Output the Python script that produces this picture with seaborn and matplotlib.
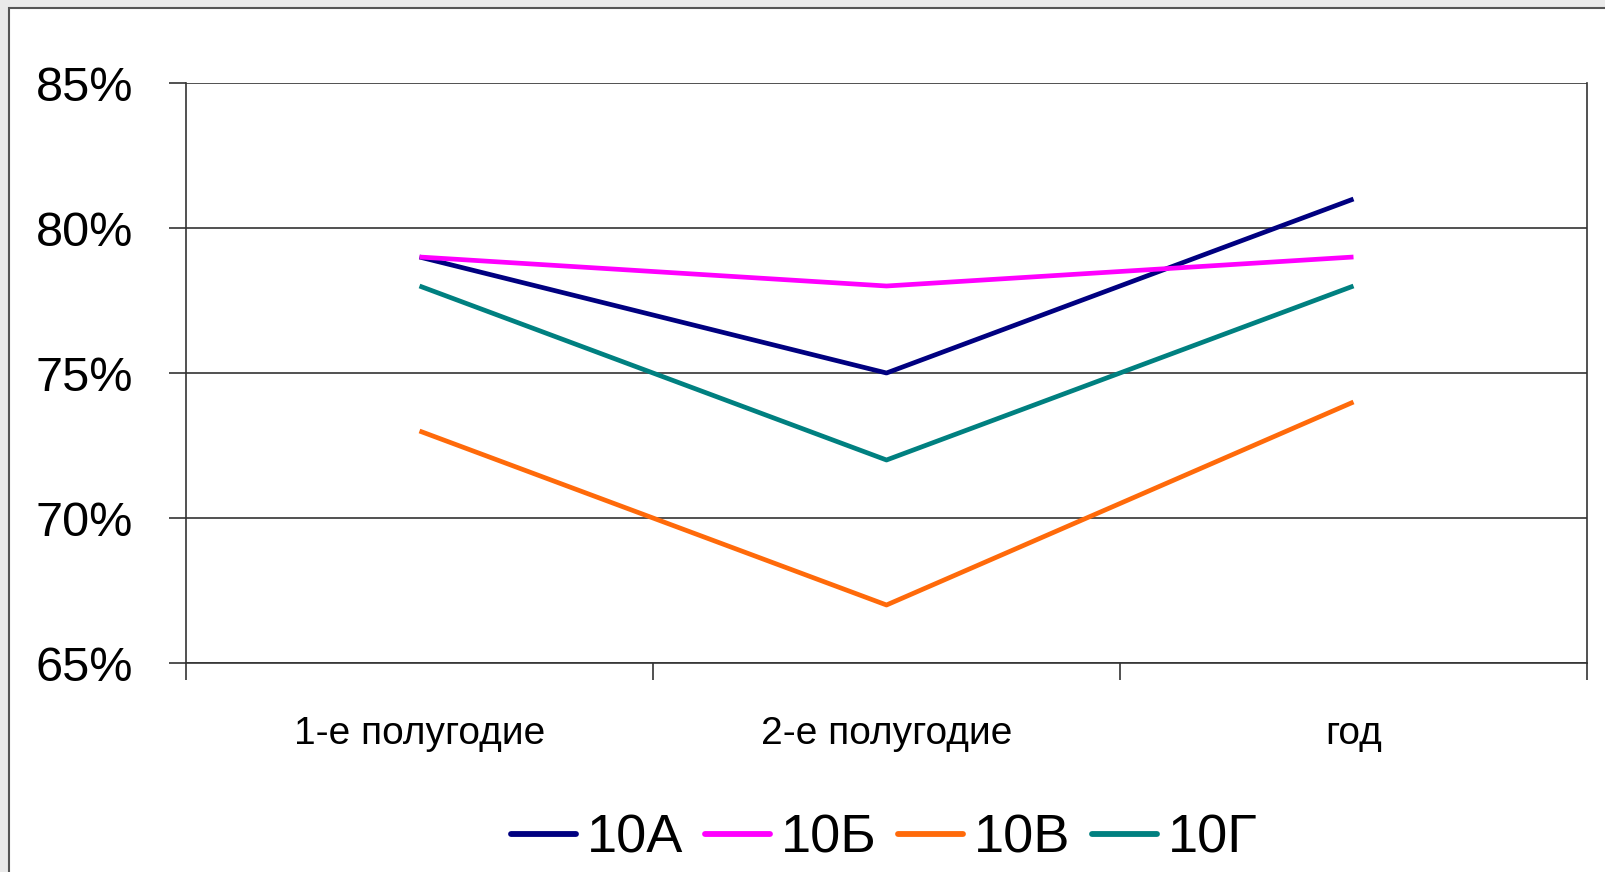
import matplotlib
matplotlib.use("Agg")
import matplotlib.pyplot as plt
from matplotlib.patches import Rectangle
from matplotlib.ticker import FixedLocator, PercentFormatter
import seaborn as sns
import pandas as pd

# data
periods = ["1-е полугодие", "2-е полугодие", "год"]
classes = ["10А", "10Б", "10В", "10Г"]
val_10a = [79, 75, 81]
val_10b = [79, 78, 79]
val_10v = [73, 67, 74]
val_10g = [78, 72, 78]
colors = ["#000080", "#FF00FF", "#FF6A0A", "#008080"]

rows = []
for cls, vals in zip(classes, [val_10a, val_10b, val_10v, val_10g]):
    for p, v in zip(periods, vals):
        rows.append({"period": p, "class": cls, "value": v})
df = pd.DataFrame(rows)

sns.set_style("white")
plt.rcParams['font.family'] = ['Liberation Sans Narrow', 'Liberation Sans', 'DejaVu Sans']
plt.rcParams['text.color'] = 'black'
plt.rcParams['xtick.color'] = 'black'
plt.rcParams['ytick.color'] = 'black'

fig = plt.figure(figsize=(16.05, 8.72), dpi=100)
fig.patch.set_facecolor("#EAEAEA")
# white chart area with dark frame (runs off right/bottom edges)
frame = Rectangle((9 / 1605, -0.05), 1.1, 864 / 872 + 0.05,
                  transform=fig.transFigure, facecolor="white",
                  edgecolor="#555555", linewidth=1.5, zorder=-10)
fig.patches.append(frame)

ax = fig.add_axes([186 / 1605, 209 / 872, 1401 / 1605, 580 / 872])
ax.set_facecolor("white")

sns.lineplot(data=df, x="period", y="value", hue="class", hue_order=classes,
             palette=colors, sort=False, linewidth=3.4, ax=ax, legend=True)
for ln in ax.get_lines():
    ln.set_solid_capstyle("butt")

ax.set_xlim(-0.5, 2.5)
ax.set_ylim(65, 85)
ax.set_yticks([65, 70, 75, 80, 85])
ax.yaxis.set_major_formatter(PercentFormatter(100, decimals=0))
ax.grid(axis="y", color="#333333", linewidth=1.2)
ax.set_axisbelow(True)

ax.set_xticks([0, 1, 2])
ax.set_xticklabels(periods)
ax.xaxis.set_minor_locator(FixedLocator([-0.5, 0.5, 1.5, 2.5]))
ax.tick_params(axis="x", which="major", length=0, pad=38, labelsize=28)
ax.tick_params(axis="x", which="minor", length=12, width=1.2, color="#333333",
               direction="out", bottom=True)
ax.tick_params(axis="y", which="major", length=12, width=1.2, color="#333333",
               direction="out", pad=26, labelsize=35, left=True)

for s in ax.spines.values():
    s.set_color("#333333")
    s.set_linewidth(1.2)
ax.spines["top"].set_visible(False)

ax.set_xlabel("")
ax.set_ylabel("")

handles, labels = ax.get_legend_handles_labels()
ax.get_legend().remove()
for h in handles:
    h.set_linewidth(4.2)
    h.set_solid_capstyle("round")
fig.legend(handles, labels, loc="center", bbox_to_anchor=(0.551, 0.038), ncol=4,
           frameon=False, fontsize=39, handlelength=1.2, handletextpad=0.2,
           columnspacing=0.4)

fig.savefig("out.png", dpi=100, facecolor=fig.get_facecolor())
